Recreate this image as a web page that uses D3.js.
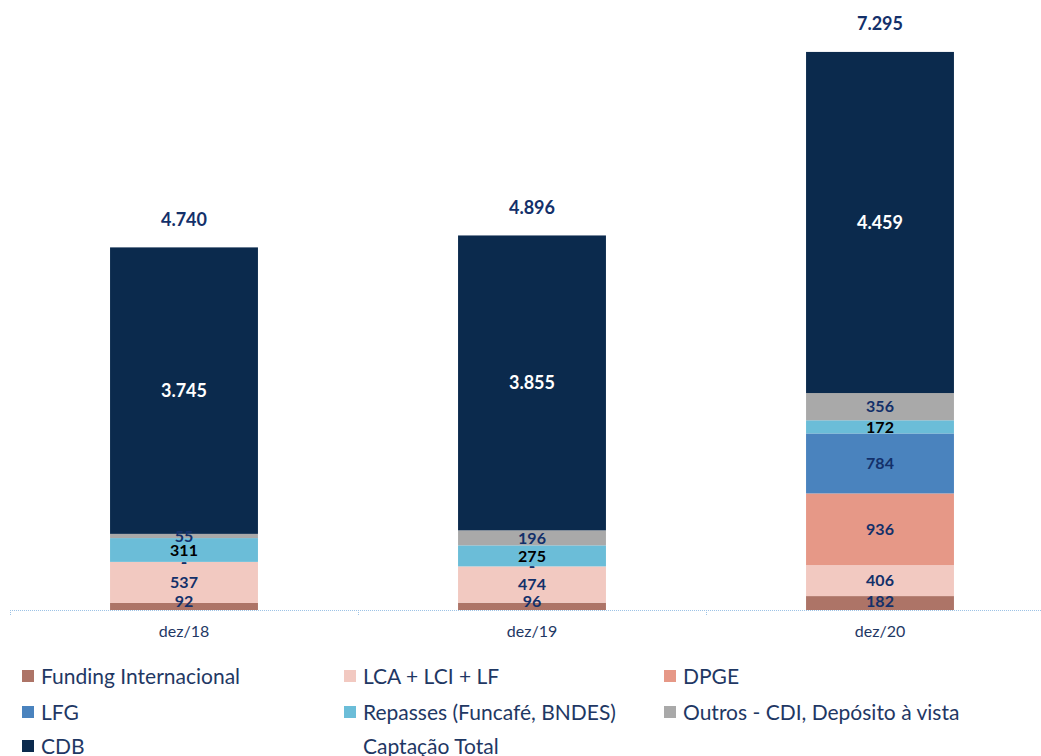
<!DOCTYPE html>
<html>
<head>
<meta charset="utf-8">
<script src="https://cdn.jsdelivr.net/npm/d3@7"></script>
<style>
  body { margin: 0; background: #fff; }
  svg { display: block; font-family: Lato, "Open Sans", sans-serif; }
</style>
</head>
<body>
<div id="chart"></div>
<script>
const categories = ["dez/18", "dez/19", "dez/20"];
const seriesNames = ["Funding Internacional", "LCA + LCI + LF", "DPGE", "LFG",
  "Repasses (Funcafé, BNDES)", "Outros - CDI, Depósito à vista", "CDB"];
const funding = [92, 96, 182];
const lca = [537, 474, 406];
const dpge = [0, 0, 936];
const lfg = [0, 0, 784];
const repasses = [311, 275, 172];
const outros = [55, 196, 356];
const cdb = [3745, 3855, 4459];
const totals = [4740, 4896, 7295];
const totalName = "Captação Total";

const colors = ["#AD7467", "#F2C9C1", "#E69887", "#4A83BE", "#6BBDD8", "#A9A9A9", "#0B2A4D"];
const labelColors = ["#13306A", "#13306A", "#13306A", "#13306A", "#000000", "#13306A", "#FFFFFF"];

const W = 1041, H = 756;
const baseline = 610;

const svg = d3.select("#chart").append("svg")
  .attr("width", W).attr("height", H);

const x = d3.scaleBand().domain(categories).range([10, 1054]).padding(0);
const barW = x.bandwidth() * 0.425;
const y = d3.scaleLinear().domain([0, 8000]).range([baseline, -2]);

const seriesData = [funding, lca, dpge, lfg, repasses, outros, cdb];
const rows = categories.map((c, i) => {
  const r = { cat: c };
  seriesNames.forEach((s, k) => r[s] = seriesData[k][i]);
  return r;
});
const stack = d3.stack().keys(seriesNames)(rows);

// category axis
const axis = svg.append("g")
  .attr("transform", `translate(0,${baseline})`)
  .call(d3.axisBottom(x).tickSize(0).tickPadding(16));
axis.select(".domain").remove();
axis.selectAll("text")
  .style("font-size", "16px")
  .style("fill", "#1F3864")
  .style("font-family", "Lato, sans-serif");

svg.append("line")
  .attr("x1", 10).attr("x2", W)
  .attr("y1", baseline + 0.5).attr("y2", baseline + 0.5)
  .attr("stroke", "#9DC3E6").attr("stroke-width", 1.2)
  .attr("stroke-dasharray", "1,1");

svg.selectAll(".tick-mark")
  .data(categories)
  .enter().append("line")
  .attr("x1", d => x(d) + 0.5).attr("x2", d => x(d) + 0.5)
  .attr("y1", baseline).attr("y2", baseline + 6)
  .attr("stroke", "#9DC3E6").attr("stroke-dasharray", "1,1");

// bars
stack.forEach((layer, k) => {
  svg.selectAll(`.seg-${k}`)
    .data(layer)
    .enter().append("rect")
    .attr("x", d => x(d.data.cat) + (x.bandwidth() - barW) / 2)
    .attr("y", d => y(d[1]))
    .attr("width", barW)
    .attr("height", d => y(d[0]) - y(d[1]))
    .attr("fill", colors[k]);
});

// segment labels
stack.forEach((layer, k) => {
  svg.selectAll(`.lab-${k}`)
    .data(layer)
    .enter().append("text")
    .attr("x", d => x(d.data.cat) + x.bandwidth() / 2)
    .attr("y", d => Math.min(y((d[0] + d[1]) / 2), baseline - 9))
    .attr("dy", "0.36em")
    .attr("text-anchor", "middle")
    .style("font-size", k === 6 ? "18px" : "16px")
    .style("font-weight", "bold")
    .style("fill", d => (d[1] - d[0]) === 0 ? "#13306A" : labelColors[k])
    .text(d => (d[1] - d[0]) === 0 ? "-" : d3.format(",")(d[1] - d[0]).replace(/,/g, "."));
});

// totals (Captação Total)
svg.selectAll(".total")
  .data(totals)
  .enter().append("text")
  .attr("x", (d, i) => x(categories[i]) + x.bandwidth() / 2)
  .attr("y", d => y(d) - 28)
  .attr("dy", "0.36em")
  .attr("text-anchor", "middle")
  .style("font-size", "18px")
  .style("font-weight", "bold")
  .style("fill", "#13306A")
  .text(d => d3.format(",")(d).replace(/,/g, "."));

// legend
const legendItems = seriesNames.map((s, k) => ({ name: s, color: colors[k] }))
  .concat([{ name: totalName, color: null }]);
const colX = [22, 344, 664];
const rowY = [676, 712, 746];
const leg = svg.selectAll(".leg")
  .data(legendItems)
  .enter().append("g")
  .attr("transform", (d, i) => `translate(${colX[i % 3]},${rowY[Math.floor(i / 3)]})`);
leg.filter(d => d.color)
  .append("rect")
  .attr("x", 0).attr("y", -6)
  .attr("width", 12).attr("height", 12)
  .attr("fill", d => d.color);
leg.append("text")
  .attr("x", 19)
  .attr("dy", "0.36em")
  .style("font-size", "21px")
  .style("fill", "#1F3864")
  .text(d => d.name);
</script>
</body>
</html>
